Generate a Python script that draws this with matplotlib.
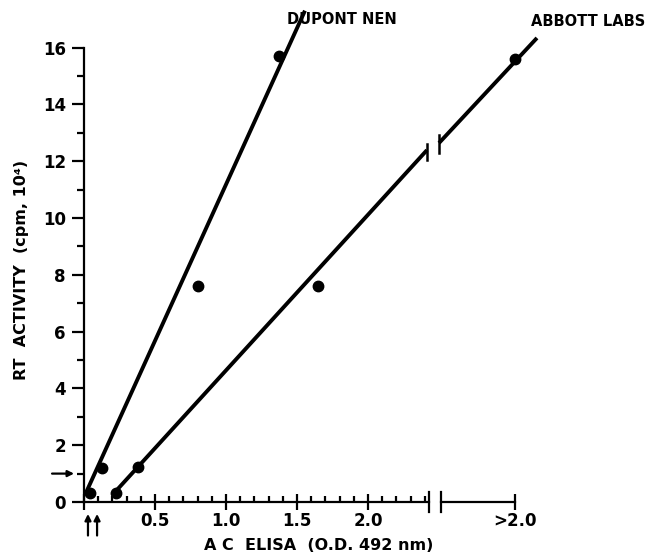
import numpy as np
import matplotlib
matplotlib.use("Agg")
import matplotlib.pyplot as plt

# data (x in O.D. units, y in cpm x 10^4)
dupont_x = [0.04, 0.13, 0.80, 1.37]
dupont_y = [0.32, 1.20, 7.60, 15.70]
abbott_x = [0.225, 0.38, 1.65]
abbott_y = [0.32, 1.23, 7.60]
abbott_over_y = 15.6          # the ">2.0" point
over_pos = 3.035              # where ">2.0" sits on the broken axis

# fitted lines (end points)
dupont_line_x = [0.007, 1.556]
dupont_line_y = [0.25, 17.3]
abbott_line_x = [0.20, 2.415]
abbott_line_y = [0.25, 12.39]
abbott_line2_x = [2.50, 3.19]
abbott_line2_y = [12.64, 16.34]

x_major = [0.5, 1.0, 1.5, 2.0]
x_major_labels = ["0.5", "1.0", "1.5", "2.0"]
y_major = list(range(0, 17, 2))
axis_break = (2.43, 2.514)

plt.rcParams["font.family"] = ["DejaVu Sans"]
plt.rcParams["font.weight"] = "bold"

W, H = 649, 554
fig = plt.figure(figsize=(W / 100, H / 100), dpi=100)
x0, x1, y0, y1 = 84, 600, 502, 5
ax = fig.add_axes([x0 / W, 1 - y0 / H, (x1 - x0) / W, (y0 - y1) / H])
ax.set_xlim(0, (x1 - x0) / 142.0)
ax.set_ylim(0, (y0 - y1) / 28.4)

for s in ["top", "right"]:
    ax.spines[s].set_visible(False)
ax.spines["left"].set_bounds(0, 16)
ax.spines["bottom"].set_bounds(0, axis_break[0])
for s in ["left", "bottom"]:
    ax.spines[s].set_linewidth(1.6)

ax.plot(dupont_line_x, dupont_line_y, color="black", lw=2.8, clip_on=False,
        solid_capstyle="butt")
ax.plot(abbott_line_x, abbott_line_y, color="black", lw=2.8, clip_on=False,
        solid_capstyle="butt")
ax.plot(abbott_line2_x, abbott_line2_y, color="black", lw=2.8, clip_on=False,
        solid_capstyle="butt")
# break bars on the Abbott line
ax.plot([abbott_line_x[1]] * 2, [abbott_line_y[1] - 0.35, abbott_line_y[1] + 0.2],
        color="black", lw=1.8)
ax.plot([abbott_line2_x[0]] * 2, [abbott_line2_y[0] - 0.35, abbott_line2_y[0] + 0.3],
        color="black", lw=1.8)

ax.plot(dupont_x, dupont_y, "o", color="black", ms=7.5, clip_on=False)
ax.plot(abbott_x + [over_pos], abbott_y + [abbott_over_y], "o", color="black",
        ms=7.5, clip_on=False)

# broken x axis
ax.plot([axis_break[1], over_pos], [0, 0], color="black", lw=1.6, clip_on=False)
for xb in axis_break:
    ax.plot([xb, xb], [-0.35, 0.35], color="black", lw=1.6, clip_on=False)

ax.set_xticks([0] + x_major + [over_pos])
ax.set_xticklabels([""] + x_major_labels + [">2.0"])
ax.set_xticks([i / 10 for i in range(1, 25) if i % 5], minor=True)
ax.tick_params(axis="x", which="major", direction="inout", length=11, width=1.6,
               labelsize=12, pad=2)
ax.tick_params(axis="x", which="minor", direction="in", length=4, width=1.6)

ax.set_yticks(y_major)
ax.set_yticks(range(1, 16, 2), minor=True)
ax.tick_params(axis="y", which="major", direction="out", length=9, width=1.6,
               labelsize=12, pad=4)
ax.tick_params(axis="y", which="minor", direction="out", length=5, width=1.6)

# arrows marking cut-offs
arrow = dict(arrowstyle="-|>", lw=1.6, color="black", mutation_scale=9,
             shrinkA=0, shrinkB=0)
ax.annotate("", xy=(-0.07, 1), xytext=(-0.225, 1), arrowprops=arrow,
            annotation_clip=False)
for xa in [0.028, 0.092]:
    ax.annotate("", xy=(xa, -0.42), xytext=(xa, -1.18), arrowprops=arrow,
                annotation_clip=False)

fig.text(342 / W, 1 - 20 / H, "DUPONT NEN", ha="center", va="center",
         fontsize=10.5)
fig.text(588 / W, 1 - 21 / H, "ABBOTT LABS", ha="center", va="center",
         fontsize=10.5)
fig.text(22 / W, 1 - 270 / H, "RT  ACTIVITY  (cpm, 10\u2074)", rotation=90,
         ha="center", va="center", fontsize=11.5)
fig.text(319 / W, 1 - 545 / H, "A C  ELISA  (O.D. 492 nm)", ha="center",
         va="center", fontsize=11.5)

fig.savefig("out.png", dpi=100)
